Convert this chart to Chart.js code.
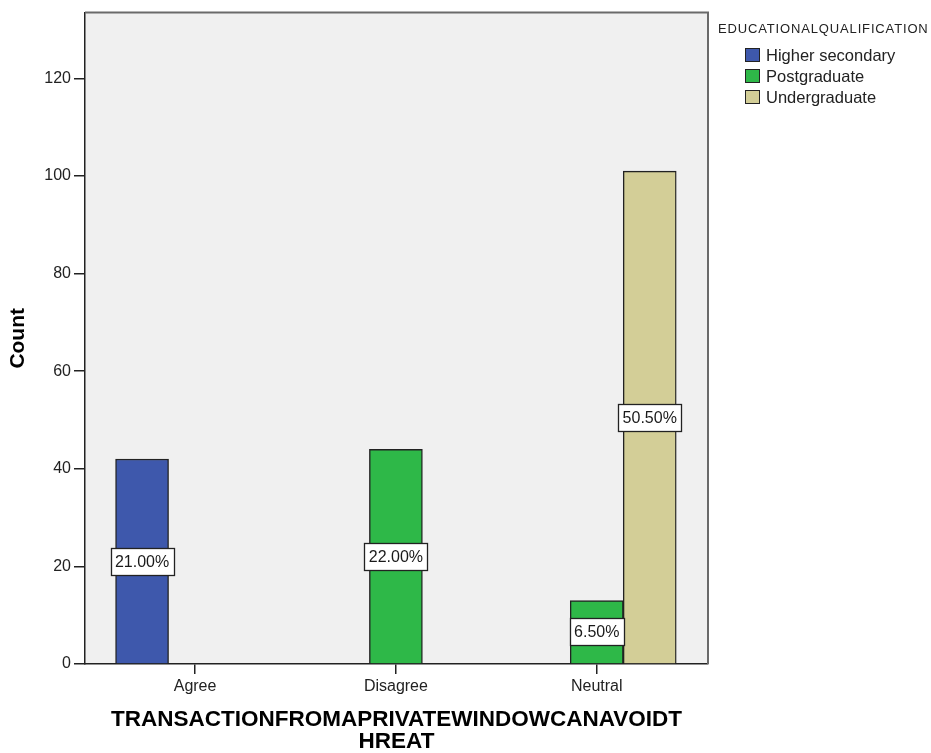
<!DOCTYPE html>
<html>
<head>
<meta charset="utf-8">
<script src="https://cdn.jsdelivr.net/npm/chart.js@4"></script>
<style>
body{margin:0;background:#fff;font-family:"Liberation Sans",Arial,sans-serif}
#wrap{position:relative;width:931px;height:753px}
#legend{position:absolute;left:718px;top:0;width:213px;height:120px;color:#222}
#legend .ttl{position:absolute;left:0;top:21px;font-size:13px;line-height:15px;letter-spacing:0.85px;white-space:nowrap}
#legend .item{position:absolute;left:27px;height:21px;display:flex;align-items:center;font-size:16.5px;white-space:nowrap}
#legend .box{width:15px;height:14px;box-sizing:border-box;border:1px solid #222;margin-right:6px}
</style>
</head>
<body>
<div id="wrap">
  <canvas id="myChart" width="931" height="753"></canvas>
  <div id="legend"></div>
</div>
<script>
const categories = ['Agree', 'Disagree', 'Neutral']
const seriesNames = ['Higher secondary', 'Postgraduate', 'Undergraduate']
const higherSecondary = [42, null, null]
const postgraduate = [null, 44, 13]
const undergraduate = [null, null, 101]
const yTicks = [0, 20, 40, 60, 80, 100, 120]
const seriesColors = ['#3E58AC', '#2EB848', '#D3CE97']
const legendTitle = 'EDUCATIONALQUALIFICATION'
const xTitle = ['TRANSACTIONFROMAPRIVATEWINDOWCANAVOIDT', 'HREAT']
const yTitle = 'Count'

const seriesValues = [higherSecondary, postgraduate, undergraduate]
const total = seriesValues.flat().reduce((s, v) => s + (v || 0), 0)
const fontFamily = '"Liberation Sans", Arial, sans-serif'

Chart.defaults.font.family = fontFamily
Chart.defaults.color = '#222'

// grey plot background + top/right frame lines
const plotFrame = {
    id: 'plotFrame',
    beforeDraw(chart) {
        const {ctx, chartArea: a} = chart
        ctx.save()
        ctx.fillStyle = '#F0F0F0'
        ctx.fillRect(a.left, a.top, a.right - a.left, a.bottom - a.top)
        ctx.restore()
    },
    afterDraw(chart) {
        const {ctx, chartArea: a} = chart
        ctx.save()
        ctx.strokeStyle = '#6a6a6a'
        ctx.lineWidth = 2
        ctx.beginPath()
        ctx.moveTo(a.left, a.top)
        ctx.lineTo(a.right, a.top)
        ctx.lineTo(a.right, a.bottom)
        ctx.stroke()
        ctx.restore()
    }
}

// white percentage boxes in the middle of each bar
const pctLabels = {
    id: 'pctLabels',
    afterDatasetsDraw(chart) {
        const ctx = chart.ctx
        ctx.save()
        ctx.font = '16px ' + fontFamily
        ctx.textAlign = 'center'
        ctx.textBaseline = 'middle'
        chart.data.datasets.forEach((ds, di) => {
            chart.getDatasetMeta(di).data.forEach((bar, i) => {
                const v = ds.data[i].y
                if (v == null) return
                const text = (v / total * 100).toFixed(2) + '%'
                const w = Math.round(ctx.measureText(text).width + 9)
                const h = 27
                const x = Math.round(bar.x - w / 2) + 0.5
                const y = Math.round((bar.y + bar.base) / 2 - h / 2) + 0.5
                ctx.fillStyle = '#fff'
                ctx.fillRect(x, y, w, h)
                ctx.strokeStyle = '#222'
                ctx.lineWidth = 1.3
                ctx.strokeRect(x, y, w, h)
                ctx.fillStyle = '#1a1a1a'
                ctx.fillText(text, bar.x, (bar.y + bar.base) / 2 + 1)
            })
        })
        ctx.restore()
    }
}

const datasets = seriesNames.map((name, s) => ({
    label: name,
    data: seriesValues[s].map((v, i) => ({x: i, y: v})),
    backgroundColor: seriesColors[s],
    borderColor: '#222',
    borderWidth: 1.4,
    barThickness: 53
}))

new Chart(document.getElementById('myChart'), {
    type: 'bar',
    data: {datasets},
    options: {
        responsive: false,
        animation: false,
        events: [],
        layout: {padding: {top: 10, right: 223, left: 0, bottom: 0}},
        plugins: {legend: {display: false}, tooltip: {enabled: false}},
        scales: {
            x: {
                type: 'linear',
                min: -0.548,
                max: 2.554,
                offset: false,
                afterBuildTicks: s => { s.ticks = categories.map((c, i) => ({value: i})) },
                afterFit: s => { s.height = 89 },
                grid: {offset: false, drawOnChartArea: false, drawTicks: true, tickLength: 10, color: '#222', lineWidth: 1.5},
                border: {color: '#222', width: 1.5},
                ticks: {font: {size: 16}, padding: 3, maxRotation: 0, callback: v => categories[v]},
                title: {display: true, text: xTitle, font: {size: 22.5, weight: 'bold', lineHeight: 0.95}, padding: {top: 0, bottom: 1}, color: '#000'}
            },
            y: {
                min: 0,
                max: 133.5,
                afterBuildTicks: s => { s.ticks = yTicks.map(v => ({value: v})) },
                afterFit: s => { s.width = 85 },
                grid: {drawOnChartArea: false, drawTicks: true, tickLength: 11, color: '#222', lineWidth: 1.5},
                border: {color: '#222', width: 1.5},
                ticks: {font: {size: 16}, padding: 3},
                title: {display: true, text: yTitle, font: {size: 21, weight: 'bold', lineHeight: 1}, padding: {top: 8, bottom: 0}, color: '#000'}
            }
        }
    },
    plugins: [plotFrame, pctLabels]
})

const legend = document.getElementById('legend')
legend.innerHTML = `<div class="ttl">${legendTitle}</div>` + seriesNames.map((n, i) =>
    `<div class="item" style="top:${44.5 + 21 * i}px"><span class="box" style="background:${seriesColors[i]}"></span>${n}</div>`
).join('')
</script>
</body>
</html>
